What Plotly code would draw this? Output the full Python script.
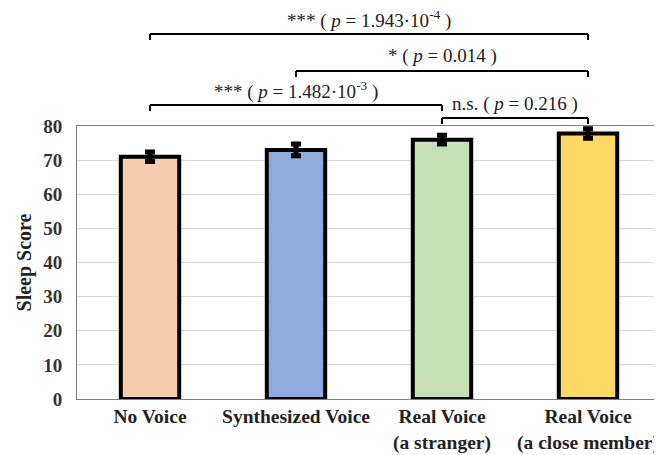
import plotly.graph_objects as go

categories = ["No Voice", "Synthesized Voice", "Real Voice<br>(a stranger)", "Real Voice<br>(a close member)"]
scores = [71.0, 73.0, 76.0, 77.8]
errors = [1.4, 1.7, 1.3, 1.4]
colors = ["#F8CBAD", "#8FAADC", "#C5E0B4", "#FFD966"]
y_ticks = [0, 10, 20, 30, 40, 50, 60, 70, 80]

# significance comparisons between categories (index pairs) and their labels
comp_from = [0, 1, 0, 2]
comp_to = [3, 3, 2, 3]
comp_labels = [
    "*** ( <i>p</i> = 1.943·10<sup>-4</sup> )",
    "* ( <i>p</i> = 0.014 )",
    "*** ( <i>p</i> = 1.482·10<sup>-3</sup> )",
    "n.s. ( <i>p</i> = 0.216 )",
]

# page body has an 8px margin, so the figure is laid out in window pixels minus 8
OFF = 8
W, H = 662 - OFF, 455 - OFF
L, R, T, B = 77 - OFF, 1, 126 - OFF, 56
plot_h = H - T - B

def py(window_y):
    return (H - B - (window_y - OFF)) / plot_h

bracket_px = [34, 71, 105, 118]
text_px = [19, 56, 90, 104]

serif = "Liberation Serif, Times New Roman, serif"

fig = go.Figure()
fig.add_trace(go.Bar(
    x=list(range(len(categories))),
    y=scores,
    width=0.4,
    marker=dict(color=colors, line=dict(color="black", width=4)),
    error_y=dict(type="data", array=errors, visible=True, color="black", thickness=5, width=5),
    showlegend=False,
))

for i, j, label, by, ty in zip(comp_from, comp_to, comp_labels, bracket_px, text_px):
    y0 = py(by)
    y1 = py(by + 6)
    for xa, xb, ya, yb in [(i, j, y0, y0), (i, i, y0, y1), (j, j, y0, y1)]:
        fig.add_shape(type="line", xref="x", yref="paper", x0=xa, x1=xb, y0=ya, y1=yb,
                      line=dict(color="black", width=2))
    fig.add_annotation(x=(i + j) / 2, y=py(ty), xref="x", yref="paper",
                       text=label, showarrow=False,
                       font=dict(family=serif, size=19, color="#222222"),
                       xanchor="center", yanchor="middle")

fig.update_layout(
    width=W, height=H,
    margin=dict(l=L, r=R, t=T, b=B, autoexpand=False),
    paper_bgcolor="white", plot_bgcolor="white",
    font=dict(family=serif, color="#333333"),
)
fig.update_xaxes(
    range=[-0.5, 3.5], automargin=False,
    tickmode="array", tickvals=list(range(len(categories))),
    ticktext=["<b>" + c.replace("<br>", "</b><br><b>") + "</b>" for c in categories],
    tickfont=dict(family=serif, size=19.5, color="#222222"),
    showline=True, linecolor="#7f7f7f", linewidth=1, mirror=True,
    ticks="", showgrid=False, zeroline=False,
)
fig.update_yaxes(
    range=[0, 80], automargin=False,
    tickvals=y_ticks,
    ticktext=["<b>%d</b>" % v for v in y_ticks],
    tickfont=dict(family=serif, size=19, color="#333333"),
    showline=True, linecolor="#7f7f7f", linewidth=1, mirror=True,
    showgrid=True, gridcolor="#d9d9d9", gridwidth=1,
    ticks="", zeroline=False, ticklabelstandoff=10,
    title=dict(text="<b>Sleep Score</b>", font=dict(family=serif, size=20, color="#222222"), standoff=6),
)

fig.write_html("out.html")
